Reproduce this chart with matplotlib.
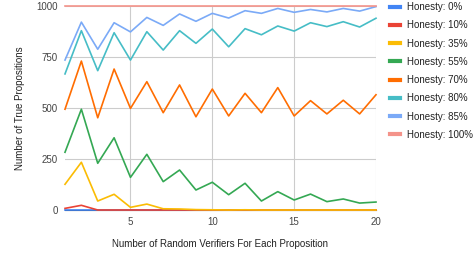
import matplotlib
matplotlib.use('Agg')
import matplotlib.pyplot as plt

plt.rcParams['font.family'] = ['Liberation Sans', 'DejaVu Sans']

verifiers = list(range(1, 21))

honesty_labels = ['Honesty: 0%', 'Honesty: 10%', 'Honesty: 35%', 'Honesty: 55%',
                  'Honesty: 70%', 'Honesty: 80%', 'Honesty: 85%', 'Honesty: 100%']

h0 = [0] * 20
h10 = [8, 23, 0, 0, 0, 0, 0, 0, 0, 0, 0, 0, 0, 0, 0, 0, 0, 0, 0, 0]
h35 = [126, 234, 44, 77, 13, 29, 6, 5, 2, 1, 0, 1, 0, 0, 0, 0, 0, 0, 0, 0]
h55 = [283, 494, 229, 354, 160, 273, 139, 196, 98, 136, 75, 131, 44, 90, 49, 78, 41, 54, 34, 39]
h70 = [494, 730, 452, 691, 498, 629, 477, 613, 457, 593, 461, 572, 477, 600, 461, 536, 471, 538, 471, 565]
h80 = [667, 879, 683, 869, 735, 874, 784, 879, 817, 887, 800, 889, 859, 902, 877, 918, 899, 923, 897, 940]
h85 = [735, 921, 788, 918, 873, 944, 905, 961, 925, 964, 941, 977, 964, 988, 969, 983, 971, 988, 975, 997]
h100 = [1000] * 20

series = [h0, h10, h35, h55, h70, h80, h85, h100]
colors = ['#4285F4', '#EA4335', '#FBBC04', '#34A853',
          '#FF6D01', '#46BDC6', '#7BAAF7', '#F4938A']

W, H = 474, 257
fig = plt.figure(figsize=(W / 100, H / 100), dpi=100)
ax = fig.add_axes([65 / W, 1 - 210 / H, (376 - 65) / W, (210 - 6) / H])

for vals, col, lab in zip(series, colors, honesty_labels):
    ax.plot(verifiers, vals, color=col, lw=1.2, label=lab, clip_on=False, zorder=3)

ax.set_xlim(1, 20)
ax.set_ylim(0, 1000)
ax.set_xticks([5, 10, 15, 20])
ax.set_yticks([0, 250, 500, 750, 1000])
ax.grid(True, color='#cccccc', lw=0.8)
ax.set_axisbelow(True)
for s in ['top', 'right', 'left']:
    ax.spines[s].set_visible(False)
ax.spines['bottom'].set_color('#333333')
ax.spines['bottom'].set_linewidth(0.8)
ax.tick_params(length=0, labelsize=7, colors='#444444', pad=5)

ax.set_xlabel('Number of Random Verifiers For Each Proposition', fontsize=7,
              color='#222222', labelpad=9)
ax.set_ylabel('Number of True Propositions', fontsize=7, color='#222222', labelpad=8)

handles, labels = ax.get_legend_handles_labels()
leg = fig.legend(handles, labels, loc='upper left', bbox_to_anchor=(390 / W, 1 - 2 / H),
                 frameon=False, fontsize=7, handlelength=1.0, handletextpad=0.7,
                 labelspacing=0.85, borderaxespad=0.0, borderpad=0.0)
for line in leg.get_lines():
    line.set_linewidth(3)
for t in leg.get_texts():
    t.set_color('#222222')

fig.savefig('out.png', dpi=100, facecolor='white')
